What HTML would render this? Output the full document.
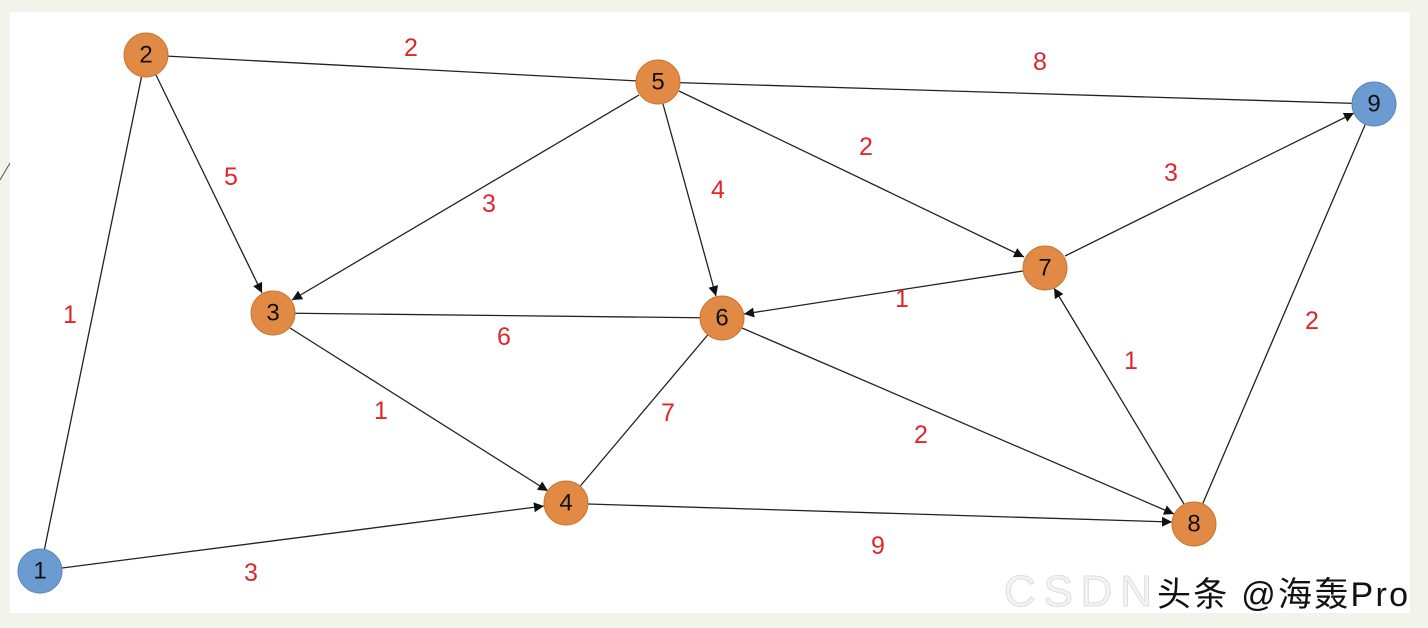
<!DOCTYPE html>
<html><head><meta charset="utf-8"><style>
html,body{margin:0;padding:0;width:1428px;height:628px;overflow:hidden;background:#f2f3eb;}
svg{position:absolute;left:0;top:0}
</style></head><body>
<svg width="1428" height="628" xmlns="http://www.w3.org/2000/svg">
<defs><marker id="a" viewBox="0 0 10 10" refX="10" refY="5" markerWidth="10" markerHeight="10" markerUnits="userSpaceOnUse" orient="auto"><path d="M0,0L10,5L0,10z" fill="#111"/></marker></defs>
<rect x="10" y="12" width="1400" height="601" fill="#fff"/>
<line x1="0" y1="180" x2="10" y2="163" stroke="#555" stroke-width="1"/>
<g stroke="#222" stroke-width="1.3" fill="none">
<line x1="146" y1="55" x2="658" y2="82"/>
<line x1="658" y1="82" x2="1374" y2="104"/>
<line x1="146" y1="55" x2="40" y2="571"/>
<line x1="273" y1="313" x2="722" y2="318"/>
<line x1="722" y1="318" x2="566" y2="503"/>
<line x1="1374" y1="104" x2="1194" y2="524"/>
<g marker-end="url(#a)">
<line x1="156" y1="75" x2="262" y2="293"/>
<line x1="639" y1="95" x2="292" y2="300"/>
<line x1="663" y1="104" x2="716" y2="296"/>
<line x1="679" y1="91" x2="1024" y2="257"/>
<line x1="1065" y1="256" x2="1354" y2="113"/>
<line x1="1023" y1="271" x2="744" y2="314"/>
<line x1="290" y1="328" x2="548" y2="491"/>
<line x1="742" y1="328" x2="1174" y2="514"/>
<line x1="1184" y1="504" x2="1054" y2="288"/>
<line x1="62" y1="568" x2="544" y2="506"/>
<line x1="588" y1="504" x2="1172" y2="522"/>
</g></g>
<g stroke="#c9762f" stroke-width="1" font-family="Liberation Sans, sans-serif" font-size="24" text-anchor="middle" dominant-baseline="central" fill="#111">
<circle cx="146" cy="55" r="22" fill="#e08a45"/>
<circle cx="273" cy="313" r="22" fill="#e08a45"/>
<circle cx="566" cy="503" r="22" fill="#e08a45"/>
<circle cx="658" cy="82" r="22" fill="#e08a45"/>
<circle cx="722" cy="318" r="22" fill="#e08a45"/>
<circle cx="1045" cy="268" r="22" fill="#e08a45"/>
<circle cx="1194" cy="524" r="22" fill="#e08a45"/>
<circle cx="40" cy="571" r="22" fill="#6b9bd1" stroke="#5a88bd"/>
<circle cx="1374" cy="104" r="22" fill="#6b9bd1" stroke="#5a88bd"/>
<g stroke="none">
<text x="146" y="55">2</text><text x="273" y="313">3</text><text x="566" y="503">4</text>
<text x="658" y="82">5</text><text x="722" y="318">6</text><text x="1045" y="268">7</text>
<text x="1194" y="524">8</text><text x="40" y="571">1</text><text x="1374" y="104">9</text>
</g></g>
<g font-family="Liberation Sans, sans-serif" font-size="25" text-anchor="middle" dominant-baseline="central" fill="#e0262b">
<text x="411" y="48">2</text><text x="1040" y="62">8</text><text x="231" y="177">5</text>
<text x="489" y="204">3</text><text x="718" y="190">4</text><text x="866" y="147">2</text>
<text x="1171" y="173">3</text><text x="70" y="315">1</text><text x="902" y="299">1</text>
<text x="504" y="337">6</text><text x="1312" y="321">2</text><text x="1131" y="361">1</text>
<text x="381" y="411">1</text><text x="668" y="413">7</text><text x="921" y="435">2</text>
<text x="878" y="546">9</text><text x="251" y="573">3</text>
</g>
<text x="1004" y="606" font-family="Liberation Sans, sans-serif" font-size="44" fill="#f4f4f4" stroke="#ddd" stroke-width="1" textLength="148">CSDN</text>
<text x="1157" y="606" font-family="Liberation Sans, 'Noto Sans CJK SC', sans-serif" font-size="34" fill="#111" textLength="251">头条 @海轰Pro</text>
</svg>
</body></html>
